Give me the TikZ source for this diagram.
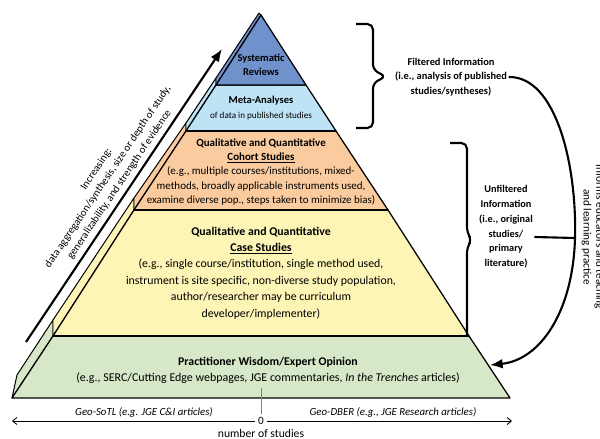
\documentclass[tikz,border=0pt]{standalone}
\usepackage{fontspec}
\setmainfont{Carlito}
\usetikzlibrary{arrows.meta}

\definecolor{sysblue}{RGB}{112,146,204}
\definecolor{metablue}{RGB}{190,227,245}
\definecolor{cohortorange}{RGB}{250,203,158}
\definecolor{caseyellow}{RGB}{253,245,182}
\definecolor{wisdomgreen}{RGB}{214,232,200}

\tikzset{
  layer/.style={draw=black, line width=0.9pt, line join=round},
  sideface/.style={draw=black, line width=0.7pt, line join=round},
  sep/.style={line width=2pt},
  lbl/.style={align=center, inner sep=1pt},
  bigarrow/.style={line width=1.5pt, -{Latex[length=9pt,width=7pt]}},
  bracket/.style={line width=1.5pt, rounded corners=4pt},
  axis/.style={line width=0.6pt, -{Straight Barb[length=3pt,width=5pt]}},
}

\begin{document}
\begin{tikzpicture}[x=0.025cm,y=-0.025cm]
    \useasboundingbox (0,0) rectangle (600,439);

    % side faces of the layers
    \filldraw[sideface, fill=wisdomgreen] (12,398) -- (17,375) -- (53,320) -- (53,336) -- cycle;
    \filldraw[sideface, fill=caseyellow] (53,336) -- (53,320) -- (134,198) -- (134,210) -- cycle;
    \filldraw[sideface, fill=cohortorange] (134,210) -- (134,198) -- (186,123) -- (186,131) -- cycle;
    \filldraw[sideface, fill=metablue] (186,131) -- (186,123) -- (216,78) -- (216,85) -- cycle;
    \filldraw[sideface, fill=sysblue] (216,85) -- (216,78) -- (259,13) -- (261,15) -- cycle;

    % front faces
    \filldraw[layer, fill=wisdomgreen] (53,336) -- (469,336) -- (510,398) -- (12,398) -- cycle;
    \filldraw[layer, fill=caseyellow] (134,210) -- (388,210) -- (469,336) -- (53,336) -- cycle;
    \filldraw[layer, fill=cohortorange] (186,131) -- (336,131) -- (388,210) -- (134,210) -- cycle;
    \filldraw[layer, fill=metablue] (216,85) -- (306,85) -- (336,131) -- (186,131) -- cycle;
    \filldraw[layer, fill=sysblue] (261,15) -- (306,85) -- (216,85) -- cycle;
    \draw[sep] (186,131) -- (336,131);
    \draw[sep] (134,210) -- (388,210);
    \draw[sep] (53,336) -- (469,336);

    % layer texts
    \node[lbl, font=\bfseries\fontsize{7.5}{10}\selectfont] (sysrev) at (261,65) {Systematic\\Reviews};
    \node[lbl, font=\fontsize{7.5}{10.5}\selectfont] (meta) at (261,108)
        {\textbf{Meta-Analyses}\\{\fontsize{6.5}{8}\selectfont of data in published studies}};
    \node[lbl, font=\fontsize{7.8}{10.3}\selectfont] (cohort) at (261,172)
        {\textbf{Qualitative and Quantitative}\\\textbf{\underline{Cohort Studies}}\\
         (e.g., multiple courses/institutions, mixed-\\
         methods, broadly applicable instruments used,\\
         examine diverse pop., steps taken to minimize bias)};
    \node[lbl, font=\fontsize{8.4}{11.7}\selectfont] (casest) at (261,273)
        {\textbf{Qualitative and Quantitative}\\\textbf{\underline{Case Studies}}\\
         (e.g., single course/institution, single method used,\\
         instrument is site specific, non-diverse study population,\\
         author/researcher may be curriculum\\
         developer/implementer)};
    \node[lbl, font=\fontsize{8.5}{11.4}\selectfont] (wisdom) at (268,370)
        {\textbf{\fontsize{8.4}{11.4}\selectfont Practitioner Wisdom/Expert Opinion}\\
         (e.g., SERC/Cutting Edge webpages, JGE commentaries, \textit{In the Trenches} articles)};

    % increasing arrow
    \coordinate (arrtail) at (26,342);
    \coordinate (arrhead) at (222,49);
    \draw[bigarrow] (arrtail) -- (arrhead);
    \node[lbl, rotate=56, font=\fontsize{7.6}{9.8}\selectfont] (incr) at (108,177)
        {Increasing:\\data aggregation/synthesis, size or depth of study,\\generalizability, and strength of evidence};

    % number of studies axis
    \node[font=\fontsize{8}{9}\selectfont, inner sep=2pt] (zero) at (261,421) {0};
    \node[font=\fontsize{8.3}{9}\selectfont, inner sep=1pt] (nstud) at (261,433) {number of studies};
    \coordinate (axl) at (12,421);
    \coordinate (axr) at (512,421);
    \coordinate (tick) at (261,388);
    \draw[axis] (zero.west) -- (axl);
    \draw[axis] (zero.east) -- (axr);
    \draw[gray, line width=0.6pt] (tick) -- (zero.north);
    \node[font=\itshape\fontsize{7.7}{9}\selectfont, inner sep=1pt, anchor=south] (sotl) at (144,419) {Geo-SoTL (e.g. JGE C\&I articles)};
    \node[font=\itshape\fontsize{7.7}{9}\selectfont, inner sep=1pt, anchor=south] (dber) at (393,419) {Geo-DBER (e.g., JGE Research articles)};

    % filtered / unfiltered
    \node[lbl, font=\bfseries\fontsize{7.4}{10.5}\selectfont] (filt) at (451,77)
        {Filtered Information\\(i.e., analysis of published\\studies/syntheses)};
    \node[lbl, font=\bfseries\fontsize{7.3}{10.5}\selectfont] (unfilt) at (506,227)
        {Unfiltered\\Information\\(i.e., original\\studies/\\primary\\literature)};
    \draw[bracket] (356,24) -| (373,70) -- (386,76.5) -- (373,83) |- (356,128);
    \draw[bracket] (450,143) -| (467,233) -- (472,240) -- (467,247) -- (467,336);

    % informs arrow
    \coordinate (bend) at (575,238);
    \coordinate (landing) at (490,365);
    \draw[bigarrow] (filt.east) .. controls (556,76) and (577,165) .. (bend)
        .. controls (573,312) and (540,360) .. (landing);
    \draw[line width=1.5pt] (unfilt.east |- 0,237) -- (bend);
    \node[lbl, rotate=-90, font=\fontsize{8}{9}\selectfont] (informs) at (593,237)
        {Informs educators and teaching\\and learning practice};
\end{tikzpicture}
\end{document}
